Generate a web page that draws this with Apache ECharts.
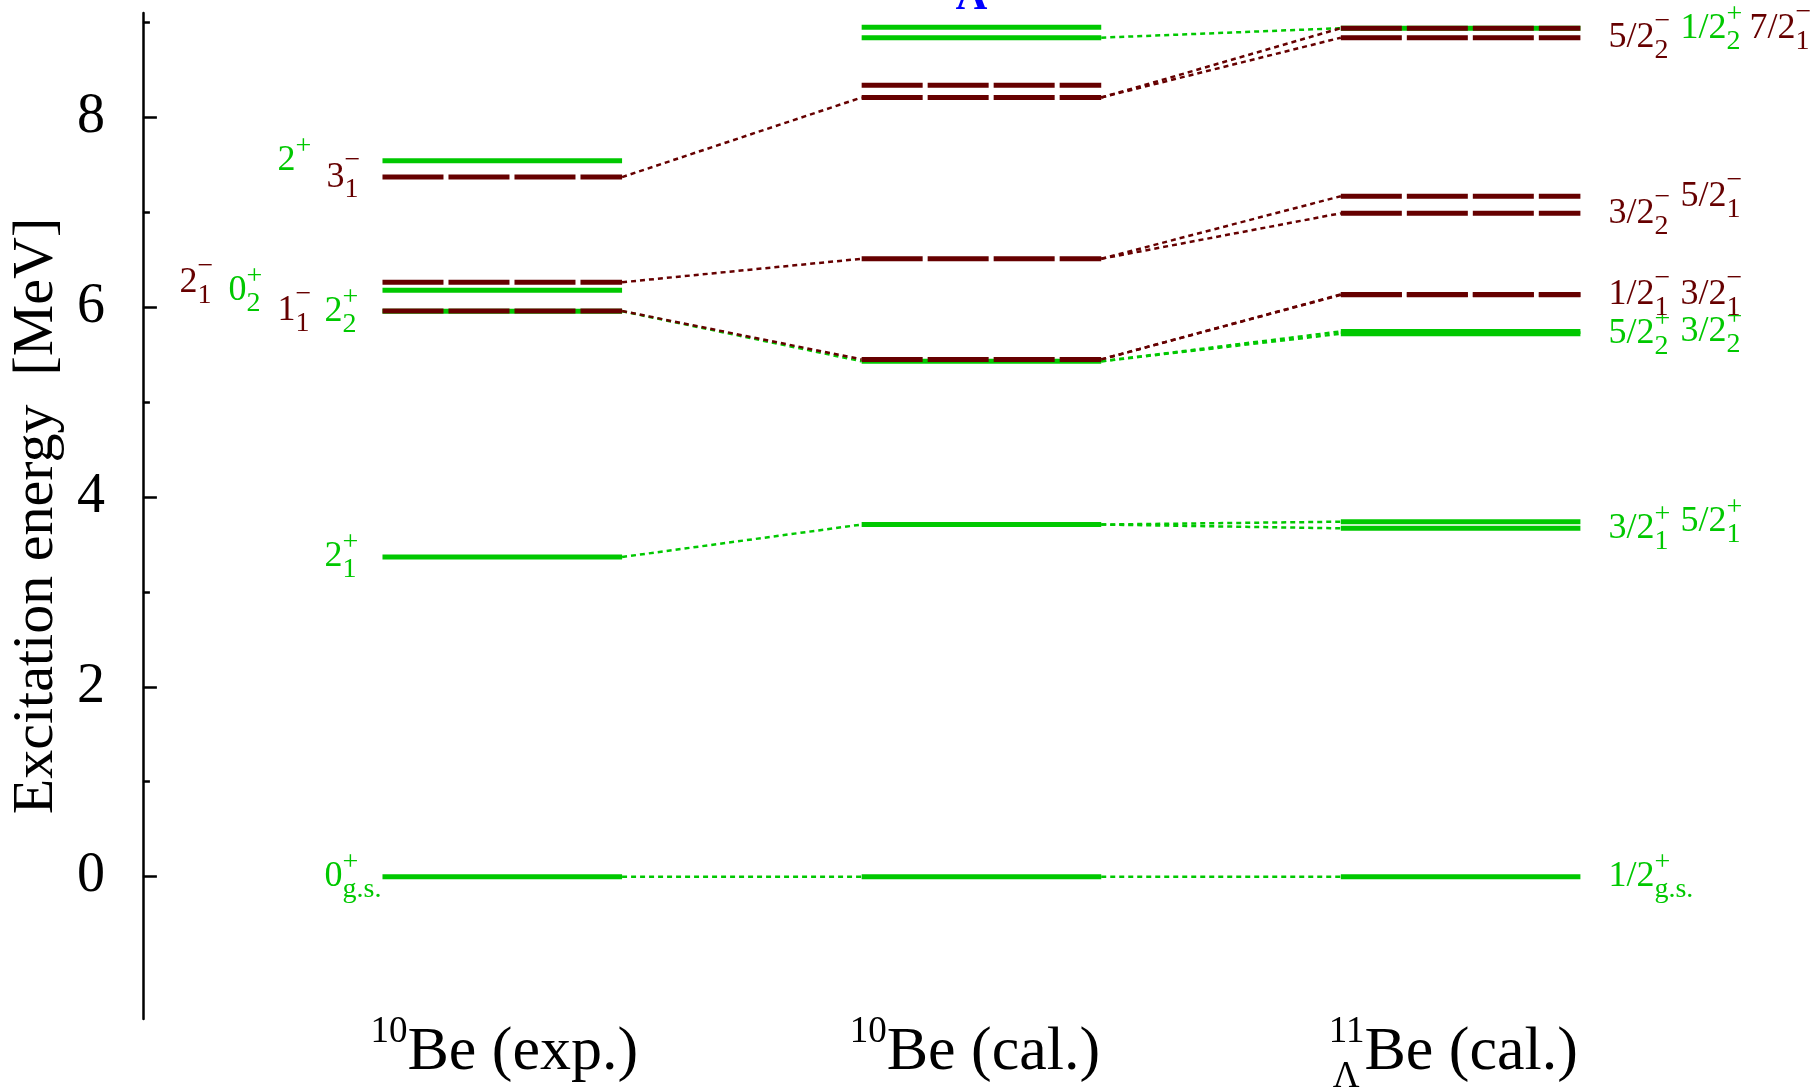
<!DOCTYPE html>
<html>
<head>
<meta charset="utf-8">
<script src="https://cdn.jsdelivr.net/npm/echarts@6/dist/echarts.min.js"></script>
<style>
  html, body { margin: 0; padding: 0; background: #fff; }
  #chart { width: 1814px; height: 1090px; }
</style>
</head>
<body>
<div id="chart"></div>
<script>
// ---- Level scheme data (energies in MeV) ----
// Columns: 1 = 10Be (exp.), 2 = 10Be (cal.), 3 = 11ΛBe (cal.)
const nucleusMass = ['10', '10', '11'];
const nucleusSub  = ['', '', 'Λ'];
const nucleusName = ['Be (exp.)', 'Be (cal.)', 'Be (cal.)'];

// 10Be experiment
const expEnergy = [0, 3.368, 5.958, 5.960, 6.179, 6.263, 7.371, 7.542];
const expParity = ['+', '+', '+', '-', '+', '-', '-', '+'];
// 10Be calculation
const calEnergy = [0, 3.71, 5.43, 5.45, 6.51, 8.21, 8.34, 8.84, 8.95];
const calParity = ['+', '+', '+', '-', '-', '-', '-', '+', '+'];
// 11ΛBe calculation
const hypEnergy = [0, 3.67, 3.74, 5.72, 5.745, 6.13, 6.135, 6.99, 7.17, 8.84, 8.94, 8.94];
const hypParity = ['+', '+', '+', '+', '+', '-', '-', '-', '-', '-', '+', '-'];

// Correspondence lines: from column linkCol (energy linkFrom) to the next column (energy linkTo)
const linkCol    = [1, 1, 1, 1, 1, 1, 2, 2, 2, 2, 2, 2, 2, 2, 2, 2, 2, 2];
const linkFrom   = [0, 3.368, 5.958, 5.960, 6.263, 7.371, 0, 3.71, 3.71, 5.43, 5.43, 5.45, 5.45, 6.51, 6.51, 8.21, 8.21, 8.84];
const linkTo     = [0, 3.71, 5.43, 5.45, 6.51, 8.21, 0, 3.67, 3.74, 5.72, 5.745, 6.13, 6.135, 6.99, 7.17, 8.84, 8.94, 8.94];
const linkParity = ['+', '+', '+', '-', '-', '-', '+', '+', '+', '+', '+', '-', '-', '-', '-', '-', '-', '+'];

// Spin-parity labels
const labelCol    = [1, 1, 1, 1, 1, 1, 1, 1, 3, 3, 3, 3, 3, 3, 3, 3, 3, 3, 3, 3];
const labelEnergy = [0, 3.368, 5.958, 5.960, 6.179, 6.263, 7.371, 7.542,
                     0, 3.67, 3.74, 5.72, 5.745, 6.13, 6.135, 6.99, 7.17, 8.84, 8.94, 8.94];
const labelBase   = ['0', '2', '2', '1', '0', '2', '3', '2',
                     '1/2', '3/2', '5/2', '5/2', '3/2', '1/2', '3/2', '3/2', '5/2', '5/2', '1/2', '7/2'];
const labelSup    = ['+', '+', '+', '\u2212', '+', '\u2212', '\u2212', '+',
                     '+', '+', '+', '+', '+', '\u2212', '\u2212', '\u2212', '\u2212', '\u2212', '+', '\u2212'];
const labelSub    = ['g.s.', '1', '2', '1', '2', '1', '1', '',
                     'g.s.', '1', '1', '2', '2', '1', '1', '2', '1', '2', '2', '1'];

// Y axis ticks
const majorTicks = [0, 2, 4, 6, 8];
const minorTicks = [1, 3, 5, 7, 9];

// ---- Layout ----
const Y_MIN = -1.5, Y_MAX = 9.1;
const X_MIN = 0.25, X_MAX = 0.25 + 1674 / 480;
const HALF = 0.25;                       // half width of a level bar (x units)
// horizontal label offsets in px from the bar's near edge
const labelDx = [-58, -58, -58, -105, -154, -203, -56, -105,
                 28, 28, 100, 28, 100, 28, 100, 28, 100, 28, 100, 169];

const GREEN = '#00c800';
const BROWN = '#660000';
const SERIF = '"Liberation Serif", "Times New Roman", serif';
const colorOfSup = s => (s === '+' ? GREEN : BROWN);

const measureCtx = document.createElement('canvas').getContext('2d');
function textWidth(t, font) { measureCtx.font = font; return measureCtx.measureText(t).width; }

function txt(x, y, text, font, fill) {
  return {
    type: 'text', x: x, y: y,
    style: { text: text, font: font, fill: fill,
             textAlign: 'left', textVerticalAlign: 'middle', align: 'left', verticalAlign: 'middle' }
  };
}

function levelData(energies, parities, col, sign) {
  const out = [];
  energies.forEach((e, i) => { if (parities[i] === sign) out.push([col, e]); });
  return out;
}

function levelSeries(sign) {
  const data = [].concat(
    levelData(expEnergy, expParity, 1, sign),
    levelData(calEnergy, calParity, 2, sign),
    levelData(hypEnergy, hypParity, 3, sign)
  );
  return {
    type: 'custom', coordinateSystem: 'cartesian2d', clip: false, silent: true,
    encode: { x: 0, y: 1 },
    data: data,
    renderItem: function (params, api) {
      const c = api.value(0), e = api.value(1);
      const p0 = api.coord([c - HALF, e]);
      const p1 = api.coord([c + HALF, e]);
      return {
        type: 'line',
        shape: { x1: p0[0], y1: p0[1], x2: p1[0], y2: p1[1] },
        style: sign === '+'
          ? { stroke: GREEN, lineWidth: 5, lineCap: 'butt' }
          : { stroke: BROWN, lineWidth: 5, lineCap: 'butt', lineDash: [61, 5] }
      };
    }
  };
}

function linkSeries(sign) {
  const data = [];
  linkCol.forEach((c, i) => { if (linkParity[i] === sign) data.push([c, linkFrom[i], linkTo[i]]); });
  return {
    type: 'custom', coordinateSystem: 'cartesian2d', clip: false, silent: true,
    encode: { x: 0, y: [1, 2] },
    data: data,
    renderItem: function (params, api) {
      const c = api.value(0);
      const p0 = api.coord([c + HALF, api.value(1)]);
      const p1 = api.coord([c + 1 - HALF, api.value(2)]);
      return {
        type: 'line',
        shape: { x1: p0[0], y1: p0[1], x2: p1[0], y2: p1[1] },
        style: { stroke: sign === '+' ? GREEN : BROWN, lineWidth: 2.5, lineDash: [5, 4] }
      };
    }
  };
}

// Spin-parity labels: base text with stacked superscript / subscript
const BASE_FONT = '36px ' + SERIF;
const SCRIPT_FONT = '28px ' + SERIF;
const labelSeries = {
  type: 'custom', coordinateSystem: 'cartesian2d', clip: false, silent: true,
  encode: { x: 0, y: 1 },
  data: labelCol.map((c, i) => [c, labelEnergy[i], i]),
  renderItem: function (params, api) {
    const c = api.value(0), e = api.value(1), i = api.value(2);
    const edge = c === 1 ? api.coord([c - HALF, e]) : api.coord([c + HALF, e]);
    const x = edge[0] + labelDx[i];
    const y = edge[1];
    const color = colorOfSup(labelSup[i]);
    const w = textWidth(labelBase[i], BASE_FONT);
    const supDy = labelSup[i] === '+' ? -14 : -16;
    const children = [txt(x, y, labelBase[i], BASE_FONT, color),
                      txt(x + w, y + supDy, labelSup[i], SCRIPT_FONT, color)];
    if (labelSub[i]) children.push(txt(x + w, y + 13, labelSub[i], SCRIPT_FONT, color));
    return { type: 'group', children: children };
  }
};

// Nucleus names under the columns, with mass number (and Λ) as prescripts
const NAME_FONT = '62px ' + SERIF;
const PRE_FONT = '37px ' + SERIF;
const nucleusSeries = {
  type: 'custom', coordinateSystem: 'cartesian2d', clip: false, silent: true,
  encode: { x: 0, y: 1 },
  data: nucleusName.map((n, i) => [i + 1, Y_MIN, i]),
  renderItem: function (params, api) {
    const c = api.value(0), i = api.value(2);
    const p = api.coord([c - HALF, Y_MIN]);
    const x = p[0] - 12;
    const y = p[1] + 34;
    const preW = Math.max(textWidth(nucleusMass[i], PRE_FONT), textWidth(nucleusSub[i], PRE_FONT));
    const children = [
      txt(x, y - 21, nucleusMass[i], PRE_FONT, '#000'),
      txt(x + preW, y, nucleusName[i], NAME_FONT, '#000')
    ];
    if (nucleusSub[i]) children.push(txt(x + 4, y + 24, nucleusSub[i], PRE_FONT, '#000'));
    return { type: 'group', children: children };
  }
};

// Λ marker above the 10Be (cal.) column
const lambdaSeries = {
  type: 'custom', coordinateSystem: 'cartesian2d', clip: false, silent: true,
  encode: { x: 0, y: 1 },
  data: [[2, Y_MAX]],
  renderItem: function (params, api) {
    const p = api.coord([api.value(0), api.value(1)]);
    return {
      type: 'text', x: p[0] - 10, y: p[1] - 15,
      style: { text: 'Λ', font: 'bold 44px ' + SERIF, fill: '#0000ff',
               textAlign: 'center', textVerticalAlign: 'middle', align: 'center', verticalAlign: 'middle' }
    };
  }
};

const chart = echarts.init(document.getElementById('chart'), null, { renderer: 'canvas' });
chart.setOption({
  animation: false,
  backgroundColor: '#ffffff',
  grid: { left: 140, right: 0, top: 13, bottom: 71, containLabel: false },
  xAxis: { type: 'value', min: X_MIN, max: X_MAX, show: false },
  yAxis: [
    {
      type: 'value', min: Y_MIN, max: Y_MAX, position: 'left',
      name: 'Excitation energy  [MeV]', nameLocation: 'middle', nameRotate: 90, nameGap: 72,
      nameTextStyle: { fontSize: 58, fontFamily: SERIF, color: '#000' },
      axisLine: { show: true, lineStyle: { color: '#000', width: 2.5 } },
      axisTick: { show: true, inside: true, length: 14, customValues: majorTicks,
                  lineStyle: { color: '#000', width: 2.5 } },
      axisLabel: { show: true, customValues: majorTicks, margin: 38,
                   fontSize: 56, fontFamily: SERIF, color: '#000' },
      splitLine: { show: false }
    },
    {
      type: 'value', min: Y_MIN, max: Y_MAX, position: 'left', offset: 0,
      axisLine: { show: false },
      axisTick: { show: true, inside: true, length: 7, customValues: minorTicks,
                  lineStyle: { color: '#000', width: 2.5 } },
      axisLabel: { show: false },
      splitLine: { show: false }
    }
  ],
  series: [
    linkSeries('+'), linkSeries('-'),
    levelSeries('+'), levelSeries('-'),
    labelSeries, nucleusSeries, lambdaSeries
  ]
});
</script>
</body>
</html>
